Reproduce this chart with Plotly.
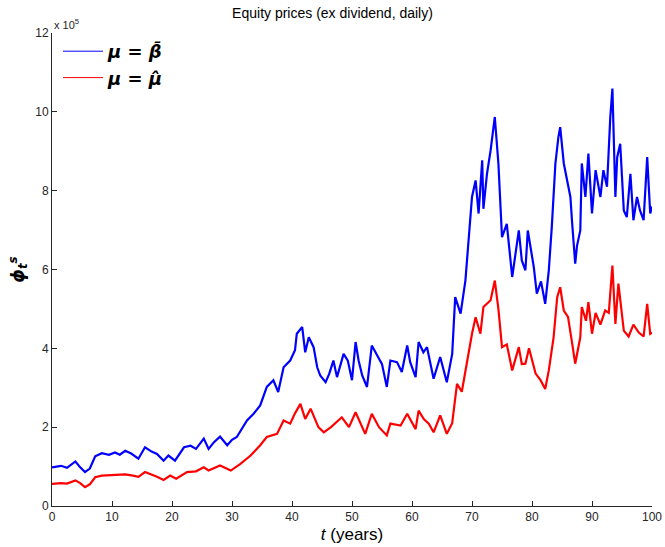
import plotly.graph_objects as go

# Readings from the reference (years, price in units of 1e5)
blue_t = [0, 1.5, 2.5, 3.9, 4.7, 5.5, 6.3, 7.2, 8.3, 9.5, 10.5, 11.3, 12.2, 13.2, 14.4, 15.5, 16.6, 17.5, 18.6, 19.4,
          20.5, 21.2, 22.0, 23.1, 24.0, 25.3, 26.1, 27.0, 28.0, 29.2, 30.0, 30.8, 31.6, 32.5, 33.6, 34.7, 35.8, 36.9, 37.7, 38.6,
          39.7, 40.5, 40.8, 41.7, 42.2, 42.8, 43.6, 44.2, 44.7, 45.6, 46.2, 46.9, 47.5, 48.6, 49.3, 50.0, 50.6, 51.1, 51.7, 52.5,
          53.3, 54.2, 55.0, 55.8, 56.4, 57.5, 58.3, 59.2, 59.7, 60.6, 61.1, 61.9, 62.5, 63.6, 64.7, 65.8, 66.7, 67.2, 68.1, 68.9,
          69.4, 70.0, 70.6, 71.1, 71.7, 71.9, 72.5, 73.1, 73.8, 74.4, 75.0, 75.8, 76.7, 77.8, 78.3, 78.9, 79.3, 80.3, 80.8, 81.5,
          82.2, 82.8, 83.3, 83.9, 84.4, 84.7, 85.3, 86.4, 86.7, 87.2, 87.5, 88.05, 88.3, 88.9, 89.4, 90.0, 90.6, 91.4, 91.9, 92.5,
          93.05, 93.4, 93.9, 94.2, 94.7, 95.3, 95.8, 96.4, 96.9, 97.5, 98.0, 98.6, 99.2, 99.7, 100]
blue_v = [0.98, 1.02, 0.97, 1.13, 0.98, 0.86, 0.95, 1.26, 1.34, 1.30, 1.36, 1.30, 1.40, 1.33, 1.20, 1.49, 1.38, 1.32, 1.15, 1.28,
          1.15, 1.30, 1.49, 1.53, 1.45, 1.71, 1.45, 1.62, 1.76, 1.54, 1.68, 1.75, 1.95, 2.17, 2.34, 2.55, 3.02, 3.19, 2.89, 3.52,
          3.69, 3.95, 4.37, 4.54, 3.90, 4.28, 4.03, 3.52, 3.31, 3.14, 3.35, 3.69, 3.27, 3.86, 3.69, 3.19, 4.16, 3.69, 3.31, 3.02,
          4.07, 3.82, 3.60, 3.02, 3.69, 3.65, 3.40, 4.07, 3.65, 3.27, 4.16, 3.90, 4.03, 3.23, 3.78, 3.14, 3.86, 5.30, 4.88, 5.72,
          6.74, 7.84, 8.26, 7.42, 8.77, 7.54, 8.43, 9.02, 9.87, 8.69, 6.82, 7.16, 5.81, 6.99, 6.23, 5.98, 6.99, 6.06, 5.39, 5.70,
          5.13, 5.98, 7.08, 8.69, 9.36, 9.61, 8.69, 7.84, 7.16, 6.15, 6.60, 6.99, 8.69, 7.84, 8.94, 7.42, 8.52, 7.84, 8.52, 8.10,
          9.87, 10.59, 7.84, 8.85, 9.19, 7.50, 7.33, 8.43, 7.25, 7.84, 7.50, 7.25, 8.85, 7.42, 7.60]

red_t = [0, 1.5, 2.5, 3.9, 4.7, 5.5, 6.3, 7.2, 8.3, 10.0, 12.2, 13.5, 14.4, 15.5, 16.6, 17.5, 18.6, 19.7, 20.7, 22.5,
         24.0, 25.3, 26.1, 28.0, 29.8, 31.4, 33.1, 34.7, 35.8, 37.5, 38.6, 39.7, 40.5, 41.4, 42.2, 43.1, 44.4, 45.3, 46.5, 48.3,
         49.5, 50.6, 52.2, 53.3, 54.5, 55.8, 56.4, 58.1, 59.2, 60.6, 61.1, 62.0, 62.8, 63.6, 64.7, 65.8, 66.7, 67.5, 68.3, 69.2,
         70.0, 70.6, 71.4, 71.9, 73.1, 73.8, 74.4, 75.0, 75.8, 76.7, 77.8, 78.3, 78.9, 79.5, 80.6, 81.4, 82.2, 82.8, 83.6, 84.2,
         84.7, 85.3, 86.0, 86.7, 87.2, 88.05, 88.3, 89.0, 89.4, 90.0, 90.6, 91.4, 92.2, 92.8, 93.4, 93.9, 94.4, 95.3, 96.1, 96.9,
         97.8, 98.6, 99.2, 99.7, 100]
red_v = [0.56, 0.58, 0.57, 0.65, 0.58, 0.48, 0.55, 0.73, 0.77, 0.79, 0.80, 0.77, 0.74, 0.86, 0.80, 0.74, 0.66, 0.77, 0.69, 0.86,
         0.88, 0.98, 0.90, 1.03, 0.90, 1.07, 1.28, 1.54, 1.75, 1.83, 2.17, 2.09, 2.35, 2.59, 2.21, 2.47, 2.00, 1.87, 2.00, 2.25,
         2.00, 2.38, 1.83, 2.34, 2.00, 1.79, 2.09, 2.04, 2.34, 1.95, 2.42, 2.20, 2.09, 1.87, 2.30, 1.83, 2.10, 3.10, 2.90, 3.69,
         4.37, 4.79, 4.37, 5.05, 5.22, 5.72, 5.00, 4.03, 4.10, 3.44, 4.03, 3.60, 3.61, 4.00, 3.36, 3.20, 2.97, 3.44, 4.28, 5.30,
         5.55, 4.96, 4.80, 4.12, 3.61, 4.28, 5.05, 4.70, 5.17, 4.37, 4.90, 4.60, 4.96, 4.90, 6.10, 4.62, 5.64, 4.45, 4.30, 4.60,
         4.40, 4.30, 5.13, 4.37, 4.40]

series_names = ["<b><i>μ = β\u0304</i></b>", "<b><i>μ = μ\u0302</i></b>"]
series_colors = ["#0000ff", "#ff0000"]

x_ticks = [0, 10, 20, 30, 40, 50, 60, 70, 80, 90, 100]
y_ticks = [0, 2, 4, 6, 8, 10, 12]

font_family = "Liberation Sans, Arial, sans-serif"
math_font = "DejaVu Sans, sans-serif"

fig = go.Figure()
for (t, v), name, color in zip([(blue_t, blue_v), (red_t, red_v)], series_names, series_colors):
    fig.add_trace(go.Scatter(x=t, y=v, mode="lines", line=dict(color=color, width=2.2),
                             name=name, legendgroup=name, showlegend=False))
    # thin-line legend entry (MATLAB-style legend sample)
    fig.add_trace(go.Scatter(x=[None], y=[None], mode="lines", line=dict(color=color, width=1),
                             name=name, legendgroup=name, showlegend=True))

axis_common = dict(showgrid=False, zeroline=False, showline=True, linecolor="#262626", linewidth=1,
                   ticks="inside", ticklen=5, tickcolor="#262626", mirror=False, automargin=False,
                   tickfont=dict(family=font_family, size=12, color="#262626"))

fig.update_layout(
    width=665, height=547,
    margin=dict(l=52, r=13, t=33, b=41, autoexpand=False),
    paper_bgcolor="white", plot_bgcolor="white",
    title=dict(text="Equity prices (ex dividend, daily)", x=0.5, xanchor="center", y=0.985, yanchor="top",
               font=dict(family=font_family, size=14, color="#000000"), automargin=False),
    xaxis=dict(range=[0, 100], tickvals=x_ticks, **axis_common,
               title=dict(text="<i>t</i> (years)", font=dict(family=font_family, size=17, color="#000000"), standoff=4)),
    yaxis=dict(range=[0, 12], tickvals=y_ticks, **axis_common,
               title=dict(text="<b><i>ϕ<sub>t</sub><sup>s</sup></i></b>", font=dict(family=math_font, size=17, color="#000000"), standoff=6)),
    legend=dict(x=0.01, y=1.0, xanchor="left", yanchor="top", bgcolor="rgba(255,255,255,0)", itemwidth=40,
                font=dict(family=math_font, size=18, color="#000000"), tracegroupgap=0),
    showlegend=True,
)
fig.add_annotation(text="x 10<sup>5</sup>", xref="paper", yref="paper", x=0, y=1.0, xanchor="left", yanchor="bottom",
                   showarrow=False, font=dict(family=font_family, size=11, color="#262626"))

fig.write_html("out.html", post_script="document.body.style.margin='0';",
               config={"displayModeBar": False})
